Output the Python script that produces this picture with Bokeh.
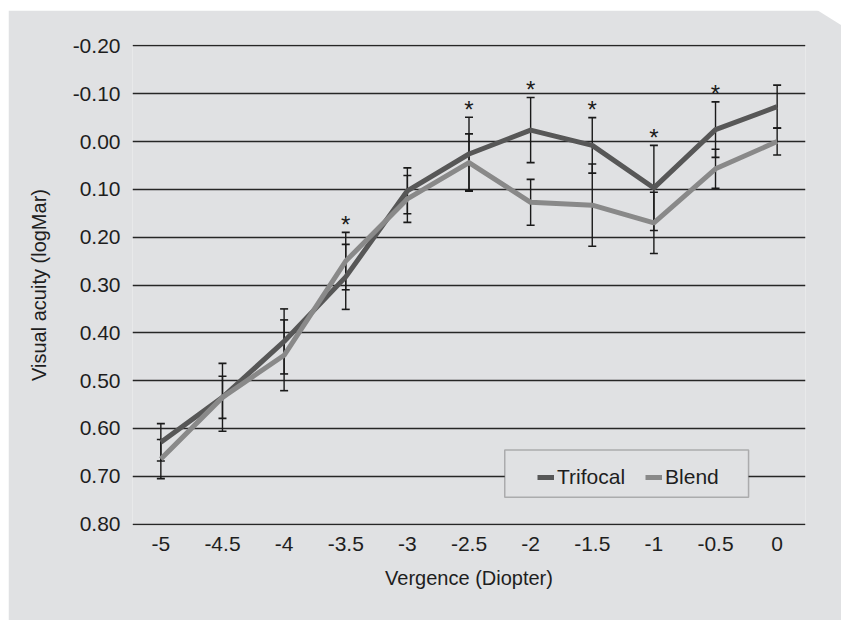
from bokeh.plotting import figure
from bokeh.models import (Range1d, FixedTicker, ColumnDataSource, Whisker, TeeHead,
                          Legend, LegendItem, BoxAnnotation)
from bokeh.core.properties import value
from bokeh.embed import file_html
from bokeh.resources import INLINE

# ---------------- data ----------------
vergence = [-5, -4.5, -4, -3.5, -3, -2.5, -2, -1.5, -1, -0.5, 0]
trifocal = [0.629, 0.535, 0.418, 0.283, 0.103, 0.026, -0.024, 0.008, 0.097, -0.025, -0.073]
trifocal_err = [0.039, 0.071, 0.068, 0.068, 0.048, 0.077, 0.068, 0.058, 0.089, 0.058, 0.045]
blend = [0.664, 0.535, 0.447, 0.250, 0.120, 0.044, 0.127, 0.133, 0.170, 0.057, 0.000]
blend_err = [0.041, 0.044, 0.074, 0.060, 0.049, 0.060, 0.048, 0.086, 0.064, 0.041, 0.028]
significant = [-3.5, -2.5, -2, -1.5, -1, -0.5]
y_ticks = [-0.2, -0.1, 0.0, 0.1, 0.2, 0.3, 0.4, 0.5, 0.6, 0.7, 0.8]
y_tick_labels = ["-0.20", "-0.10", "0.00", "0.10", "0.20", "0.30", "0.40", "0.50", "0.60", "0.70", "0.80"]
x_tick_labels = ["-5", "-4.5", "-4", "-3.5", "-3", "-2.5", "-2", "-1.5", "-1", "-0.5", "0"]

FONT = "Liberation Sans"
PANEL = "#e0e1e3"
TRI_COLOR = "#575757"
BLEND_COLOR = "#898989"
TEXT_COLOR = "#1e1e1e"

p = figure(width=833, height=610, output_backend="svg", toolbar_location=None,
           x_range=Range1d(-5.23, 0.23), y_range=Range1d(0.803, -0.203),
           min_border_left=124, min_border_right=36, min_border_top=34, min_border_bottom=95,
           background_fill_color=PANEL, border_fill_color=PANEL, outline_line_color=None,
           margin=(10, 0, 0, 8),
           styles={"clip-path": "polygon(0px 0px, 809px 0px, 833px 15px, 833px 610px, 0px 610px)"})

# grid
p.xgrid.grid_line_color = None
p.ygrid.grid_line_color = "#262626"
p.ygrid.grid_line_width = 1.4
p.ygrid.ticker = FixedTicker(ticks=y_ticks)

# axes
p.yaxis.ticker = FixedTicker(ticks=y_ticks)
p.yaxis.major_label_overrides = {t: l for t, l in zip(y_ticks, y_tick_labels)}
p.xaxis.ticker = FixedTicker(ticks=vergence)
p.xaxis.major_label_overrides = {t: l for t, l in zip(vergence, x_tick_labels)}
for ax in (p.xaxis[0], p.yaxis[0]):
    ax.axis_line_color = None
    ax.major_tick_line_color = None
    ax.minor_tick_line_color = None
    ax.major_tick_out = 0
    ax.major_tick_in = 0
    ax.major_label_text_font = FONT
    ax.major_label_text_font_size = "21px"
    ax.major_label_text_color = TEXT_COLOR
    ax.axis_label_text_font = FONT
    ax.axis_label_text_font_size = "20px"
    ax.axis_label_text_font_style = "normal"
    ax.axis_label_text_color = TEXT_COLOR
p.yaxis.axis_label = "Visual acuity (logMar)"
p.xaxis.axis_label = "Vergence (Diopter)"
p.yaxis.major_label_standoff = 12
p.yaxis.axis_label_standoff = 20
p.xaxis.major_label_standoff = 11
p.xaxis.axis_label_standoff = 13

# lines
r_tri = p.line(vergence, trifocal, line_color=TRI_COLOR, line_width=5, line_join="round")
r_blend = p.line(vergence, blend, line_color=BLEND_COLOR, line_width=5, line_join="round")

# error bars
for vals, errs in ((trifocal, trifocal_err), (blend, blend_err)):
    src = ColumnDataSource(dict(x=vergence,
                                lower=[v - e for v, e in zip(vals, errs)],
                                upper=[v + e for v, e in zip(vals, errs)]))
    w = Whisker(base="x", lower="lower", upper="upper", source=src,
                line_color="#1a1a1a", line_width=1.4,
                upper_head=TeeHead(size=8, line_color="#1a1a1a", line_width=1.6),
                lower_head=TeeHead(size=8, line_color="#1a1a1a", line_width=1.6))
    p.add_layout(w)

# significance stars above error bars
tops = {x: min(t - te, b - be) for x, t, te, b, be in zip(vergence, trifocal, trifocal_err, blend, blend_err)}
star_y = [tops[x] for x in significant]
p.text(x=significant, y=star_y, text=["*"] * len(significant), text_align="center",
       text_baseline="middle", y_offset=-8, text_font=value(FONT), text_font_size="24px",
       text_color="#1a1a1a")

# legend box
box = BoxAnnotation(left=-2.21, right=-0.232, top=0.645, bottom=0.744,
                    fill_color=PANEL, fill_alpha=1.0, line_color="#333333", line_width=1.5)
p.add_layout(box)

legend = Legend(items=[LegendItem(label="Trifocal", renderers=[r_tri]),
                       LegendItem(label="Blend", renderers=[r_blend])],
                orientation="horizontal", location=(405, 36),
                padding=5, spacing=20, glyph_width=17, glyph_height=20, label_standoff=3,
                label_text_font=FONT, label_text_font_size="21px", label_text_color=TEXT_COLOR,
                background_fill_alpha=0, border_line_color=None)
p.add_layout(legend)

open("out.html", "w").write(file_html(p, INLINE))
